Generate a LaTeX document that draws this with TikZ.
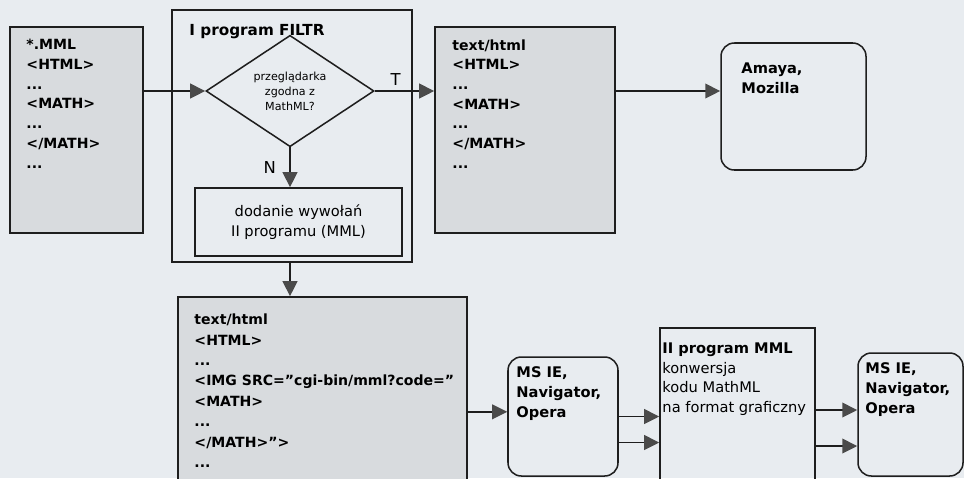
\documentclass[tikz,border=0pt]{standalone}
\usepackage{fontspec}
\setmainfont{DejaVu Sans}
\usetikzlibrary{arrows.meta, shapes.geometric, positioning}

\definecolor{paper}{HTML}{E8ECF0}
\definecolor{codegray}{HTML}{D8DBDE}
\definecolor{ink}{HTML}{1E1E1E}
\definecolor{tipgray}{HTML}{4A4A4A}

\tikzset{
  box/.style={rectangle, draw=ink, line width=1.3pt, inner sep=0pt},
  codebox/.style={box, fill=codegray},
  roundbox/.style={box, rounded corners=4mm},
  decision/.style={diamond, draw=ink, line width=1.3pt, inner sep=0pt,
    minimum width=50.4mm, minimum height=27.6mm, align=center,
    font=\fontsize{9.5}{12.8}\selectfont},
  boxtext/.style={inner sep=0pt, align=left, font=\fontsize{12}{16.8}\selectfont\bfseries},
  plaintext/.style={inner sep=0pt, align=left, font=\fontsize{12.5}{17}\selectfont},
  yesno/.style={inner sep=0pt, font=\fontsize{14}{16}\selectfont},
  arr/.style={draw=ink, line width=1.3pt,
    -{Triangle[length=4.5mm, width=4.4mm, color=tipgray]}}
}

\begin{document}
\begin{tikzpicture}[x=0.3mm, y=-0.3mm]
  \useasboundingbox (0,0) rectangle (964,478);
  \fill[paper] (0,0) rectangle (964,478);
  \clip (0,0) rectangle (964,478);

  % source file
  \node[codebox, minimum width=39.9mm, minimum height=61.8mm] (mml) at (76.5,130) {};
  \node[boxtext, below right=3.9mm and 5.1mm of mml.north west] (mmltxt)
    {*.MML\\<HTML>\\...\\<MATH>\\...\\</MATH>\\...};

  % first program
  \node[box, minimum width=72mm, minimum height=75.6mm] (filtr) at (292,136) {};
  \node[boxtext, font=\fontsize{13}{16}\selectfont\bfseries,
    below right=4.5mm and 5.4mm of filtr.north west] (filtrtitle) {I program FILTR};
  \node[decision] (test) at (290,91) {przeglądarka\\zgodna z\\MathML?};
  \node[box, minimum width=62.1mm, minimum height=20.4mm, align=center,
    font=\fontsize{12.5}{17}\selectfont] (dodanie) at (298.5,222)
    {dodanie wywołań\\II programu (MML)};

  % output for MathML browsers
  \node[codebox, minimum width=54mm, minimum height=61.8mm] (html1) at (525,130) {};
  \node[boxtext, below right=3.9mm and 5.4mm of html1.north west] (html1txt)
    {text/html\\<HTML>\\...\\<MATH>\\...\\</MATH>\\...};
  \node[roundbox, minimum width=43.5mm, minimum height=38.1mm] (amaya) at (793.5,106.5) {};
  \node[boxtext, font=\fontsize{12.5}{17}\selectfont\bfseries,
    below right=6mm and 6.3mm of amaya.north west] (amayatxt) {Amaya,\\Mozilla};

  % output for other browsers
  \node[codebox, minimum width=86.7mm, minimum height=60.9mm] (html2) at (322.5,398.5) {};
  \node[boxtext, font=\fontsize{12}{17.4}\selectfont\bfseries,
    below right=5.3mm and 5.1mm of html2.north west] (html2txt)
    {text/html\\<HTML>\\...\\<IMG SRC="cgi-bin/mml?code="\\<MATH>\\...\\</MATH>">\\...};
  \node[roundbox, minimum width=33mm, minimum height=35.7mm] (msie1) at (563,416.5) {};
  \node[boxtext, font=\fontsize{12.5}{17}\selectfont\bfseries,
    below right=3mm and 2.7mm of msie1.north west] (msie1txt) {MS IE,\\Navigator,\\Opera};
  \node[box, minimum width=46.5mm, minimum height=51.6mm] (prog2) at (737.5,414) {};
  \node[plaintext, below right=4.5mm and 0.9mm of prog2.north west] (prog2txt)
    {\textbf{II program MML}\\konwersja\\kodu MathML\\na format graficzny};
  \node[roundbox, minimum width=31.5mm, minimum height=36.9mm] (msie2) at (910.5,414.5) {};
  \node[boxtext, font=\fontsize{12.5}{17}\selectfont\bfseries,
    below right=3mm and 2.4mm of msie2.north west] (msie2txt) {MS IE,\\Navigator,\\Opera};

  % connectors
  \draw[arr] (mml.east |- test.west) -- (test.west);
  \draw[arr] (test.east) -- (test.east -| html1.west)
    node[yesno, pos=0.35, above=1.5mm] (tlab) {T};
  \draw[arr] (test.south) -- (test.south |- dodanie.north)
    node[yesno, midway, left=4mm] (nlab) {N};
  \draw[arr] (test.south |- filtr.south) -- (test.south |- html2.north);
  \draw[arr] (html1.east |- test.east) -- (amaya.west |- test.east);
  \draw[arr] ([yshift=1.4mm]msie1.west -| html2.east) -- ([yshift=1.4mm]msie1.west);
  \draw[arr] (msie1.east) -- (msie1.east -| prog2.west);
  \draw[arr] ([yshift=-7.8mm]msie1.east) -- ([yshift=-7.8mm]msie1.east -| prog2.west);
  \draw[arr] ([yshift=1.35mm]msie2.west -| prog2.east) -- ([yshift=1.35mm]msie2.west);
  \draw[arr] ([yshift=-9.45mm]msie2.west -| prog2.east) -- ([yshift=-9.45mm]msie2.west);
\end{tikzpicture}
\end{document}
